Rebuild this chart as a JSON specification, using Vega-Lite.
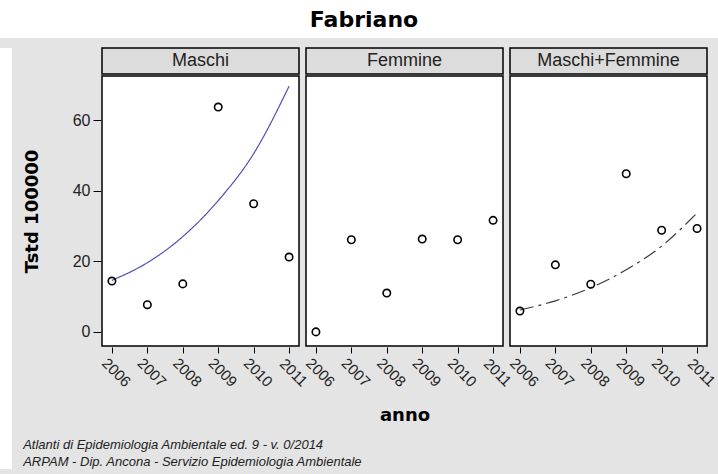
{
  "$schema": "https://vega.github.io/schema/vega-lite/v6.json",
  "background": "#e4e4e4",
  "padding": {"left": 0, "top": 0, "right": 0, "bottom": 6},
  "spacing": 9,
  "config": {"font": "Liberation Sans", "view": {"stroke": "black", "strokeWidth": 1.5}},
  "datasets": {
    "titolo": [{"t": "Fabriano"}],
    "vuoto": [{"t": ""}],
    "panels": [{"sesso": "Maschi"}, {"sesso": "Femmine"}, {"sesso": "Maschi+Femmine"}],
    "rates": [
      {"sesso": "Maschi", "anno": 2006, "tstd": 14.4, "fit": 14.6},
      {"sesso": "Maschi", "anno": 2007, "tstd": 7.7, "fit": 19.6},
      {"sesso": "Maschi", "anno": 2008, "tstd": 13.6, "fit": 27.0},
      {"sesso": "Maschi", "anno": 2009, "tstd": 63.7, "fit": 37.2},
      {"sesso": "Maschi", "anno": 2010, "tstd": 36.3, "fit": 50.5},
      {"sesso": "Maschi", "anno": 2011, "tstd": 21.2, "fit": 69.6},
      {"sesso": "Femmine", "anno": 2006, "tstd": 0.0, "fit": null},
      {"sesso": "Femmine", "anno": 2007, "tstd": 26.1, "fit": null},
      {"sesso": "Femmine", "anno": 2008, "tstd": 11.0, "fit": null},
      {"sesso": "Femmine", "anno": 2009, "tstd": 26.3, "fit": null},
      {"sesso": "Femmine", "anno": 2010, "tstd": 26.1, "fit": null},
      {"sesso": "Femmine", "anno": 2011, "tstd": 31.6, "fit": null},
      {"sesso": "Maschi+Femmine", "anno": 2006, "tstd": 5.9, "fit": 6.2},
      {"sesso": "Maschi+Femmine", "anno": 2007, "tstd": 19.0, "fit": 8.8},
      {"sesso": "Maschi+Femmine", "anno": 2008, "tstd": 13.5, "fit": 12.5},
      {"sesso": "Maschi+Femmine", "anno": 2009, "tstd": 44.8, "fit": 17.6},
      {"sesso": "Maschi+Femmine", "anno": 2010, "tstd": 28.8, "fit": 24.3},
      {"sesso": "Maschi+Femmine", "anno": 2011, "tstd": 29.3, "fit": 33.7}
    ]
  },
  "vconcat": [
    {
      "data": {"name": "titolo"},
      "width": 718,
      "height": 38,
      "view": {"fill": "white", "stroke": null},
      "mark": {"type": "text", "font": "DejaVu Sans", "fontWeight": "bold", "fontSize": 22, "color": "black", "dx": 5, "dy": 1},
      "encoding": {"text": {"field": "t", "type": "nominal"}}
    },
    {
      "spacing": 11,
      "hconcat": [
        {
          "data": {"name": "vuoto"},
          "width": 12,
          "height": 421,
          "view": {"fill": "white", "stroke": null},
          "mark": {"type": "text", "fontSize": 1},
          "encoding": {"text": {"field": "t", "type": "nominal"}}
        },
        {
          "spacing": 0,
          "vconcat": [
            {
              "data": {"name": "panels"},
              "spacing": 5,
              "facet": {"column": {"field": "sesso", "type": "nominal", "sort": ["Maschi", "Femmine", "Maschi+Femmine"], "header": null}},
              "spec": {
                "width": 197,
                "height": 26,
                "view": {"fill": "#dcdcdc", "stroke": "black", "strokeWidth": 1.5},
                "mark": {"type": "text", "fontSize": 18, "color": "#222222", "font": "Liberation Sans"},
                "encoding": {"text": {"field": "sesso", "type": "nominal"}}
              }
            },
            {
              "data": {"name": "rates"},
              "spacing": 5,
              "title": {
                "text": ["Atlanti di Epidemiologia Ambientale ed. 9 - v. 0/2014", "ARPAM - Dip. Ancona - Servizio Epidemiologia Ambientale"],
                "orient": "bottom",
                "anchor": "start",
                "frame": "bounds",
                "font": "Liberation Sans",
                "fontSize": 13,
                "fontStyle": "italic",
                "fontWeight": "normal",
                "color": "#222222",
                "lineHeight": 17,
                "offset": 14
              },
              "facet": {
                "column": {
                  "field": "sesso", "type": "nominal", "sort": ["Maschi", "Femmine", "Maschi+Femmine"],
                  "header": {
                    "labels": false, "title": "anno", "titleOrient": "bottom",
                    "titleFont": "DejaVu Sans", "titleFontSize": 18, "titleFontWeight": "bold",
                    "titleColor": "black", "titlePadding": 7
                  }
                }
              },
              "spec": {
                "width": 197,
                "height": 270,
                "view": {"fill": "white", "stroke": "black", "strokeWidth": 1.5},
                "layer": [
                  {
                    "mark": {"type": "line", "strokeWidth": 1.2, "interpolate": "monotone"},
                    "encoding": {
                      "x": {
                        "field": "anno", "type": "ordinal",
                        "scale": {"type": "point", "padding": 0.28},
                        "axis": {
                          "title": null, "labelAngle": 45, "labelAlign": "center", "labelBaseline": "middle",
                          "labelPadding": 19, "labelOffset": 4, "tickSize": 6, "tickColor": "black",
                          "domain": false, "grid": false, "labelOverlap": false,
                          "labelFontSize": 15, "labelColor": "#222222", "labelFont": "Liberation Sans"
                        }
                      },
                      "y": {
                        "field": "fit", "type": "quantitative",
                        "scale": {"domain": [-4, 72.5], "nice": false, "zero": false},
                        "axis": {
                          "title": "Tstd 100000", "values": [0, 20, 40, 60],
                          "tickSize": 8, "tickColor": "black", "labelPadding": 3,
                          "domain": false, "grid": false, "labelFlush": false,
                          "labelFontSize": 16, "labelColor": "#222222", "labelFont": "Liberation Sans",
                          "titleFont": "DejaVu Sans", "titleFontSize": 18, "titleFontWeight": "bold",
                          "titleColor": "black", "titlePadding": 31
                        }
                      },
                      "color": {
                        "field": "sesso", "type": "nominal", "legend": null,
                        "scale": {"domain": ["Maschi", "Femmine", "Maschi+Femmine"], "range": ["#5050b4", "#000000", "#3a3a3a"]}
                      },
                      "strokeDash": {
                        "field": "sesso", "type": "nominal", "legend": null,
                        "scale": {"domain": ["Maschi", "Femmine", "Maschi+Femmine"], "range": [[1, 0], [1, 0], [14, 5, 3, 5]]}
                      }
                    }
                  },
                  {
                    "mark": {"type": "point", "shape": "circle", "filled": false, "color": "black", "size": 55, "strokeWidth": 1.6, "opacity": 1},
                    "encoding": {
                      "x": {"field": "anno", "type": "ordinal"},
                      "y": {"field": "tstd", "type": "quantitative"}
                    }
                  }
                ]
              }
            }
          ]
        }
      ]
    }
  ]
}
